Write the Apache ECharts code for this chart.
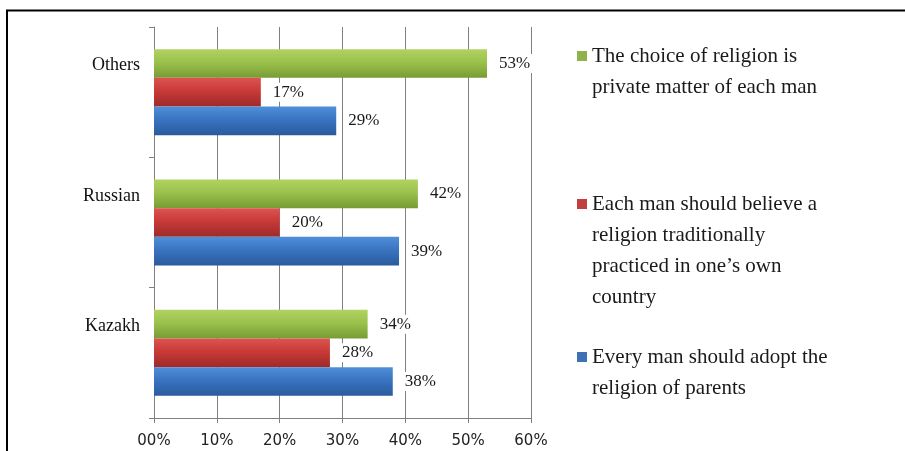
<!DOCTYPE html>
<html>
<head>
<meta charset="utf-8">
<script src="https://cdn.jsdelivr.net/npm/echarts@6/dist/echarts.min.js"></script>
<style>
html,body{margin:0;padding:0;background:#fff;}
#chart{width:905px;height:451px;}
</style>
</head>
<body>
<div id="chart"></div>
<script>
// ---- data ----
var categories = ['Kazakh', 'Russian', 'Others'];
var privateMatter = [34, 42, 53];
var traditional = [28, 20, 17];
var parents = [38, 39, 29];
var seriesNames = [
  'The choice of religion is private matter of each man',
  'Each man should believe a religion traditionally practiced in one\u2019s own country',
  'Every man should adopt the religion of parents'
];
var legendLines = [
  ['The choice of religion is', 'private matter of each man'],
  ['Each man should believe a', 'religion traditionally', 'practiced in one\u2019s own', 'country'],
  ['Every man should adopt the', 'religion of parents']
];
var xTickLabels = ['00%', '10%', '20%', '30%', '40%', '50%', '60%'];

// ---- chart ----
var chart = echarts.init(document.getElementById('chart'), null, {renderer: 'canvas'});
function grad(c0, c1, c2) {
  return new echarts.graphic.LinearGradient(0, 0, 0, 1, [
    {offset: 0, color: c0}, {offset: 0.45, color: c1}, {offset: 1, color: c2}
  ]);
}
var barColors = [
  grad('#b0d262', '#9bc24c', '#789b34'),
  grad('#dc5450', '#c83a38', '#9e2a28'),
  grad('#4f8fd8', '#3a74c2', '#2a5a9c')
];
var legendSymbolColors = ['#8fb24e', '#c0403d', '#3f72b4'];
var legendCenters = [56, 204, 357];
var LH = 31;

var labelStyle = {
  show: true,
  position: 'right',
  distance: 9,
  formatter: '{c}%',
  fontFamily: 'Liberation Serif',
  fontSize: 17,
  color: '#1a1a1a',
  backgroundColor: '#fff',
  padding: [1, 3]
};

var dataSets = [privateMatter, traditional, parents];
var series = dataSets.map(function (d, i) {
  return {
    name: seriesNames[i],
    type: 'bar',
    data: d,
    barGap: '0%',
    barCategoryGap: '34%',
    itemStyle: {color: barColors[i]},
    label: labelStyle
  };
});

var legends = legendLines.map(function (lines, i) {
  var n = lines.length;
  var lead = [];
  for (var k = 0; k < n - 1; k++) lead.push('');
  var text = lead.concat(lines).join('\n');
  var boxH = (2 * n - 1) * LH;
  return {
    orient: 'vertical',
    left: 577,
    top: legendCenters[i] - boxH / 2,
    padding: 0,
    itemWidth: 10,
    itemHeight: 10,
    icon: 'rect',
    selectedMode: false,
    data: [{name: seriesNames[i], itemStyle: {color: legendSymbolColors[i]}}],
    formatter: function () { return text; },
    textStyle: {
      fontFamily: 'Liberation Serif',
      fontSize: 21,
      color: '#1a1a1a',
      lineHeight: LH
    }
  };
});

var option = {
  backgroundColor: '#fff',
  animation: false,
  grid: {left: 154, right: 374, top: 27, bottom: 33, containLabel: false},
  xAxis: {
    type: 'value',
    min: 0,
    max: 60,
    interval: 10,
    axisLine: {show: true, lineStyle: {color: '#808080', width: 1}},
    axisTick: {show: true, length: 5, lineStyle: {color: '#808080'}},
    splitLine: {show: true, lineStyle: {color: '#808080', width: 1}},
    axisLabel: {
      margin: 16,
      fontFamily: 'DejaVu Sans',
      fontSize: 15,
      color: '#222',
      formatter: function (v) { return xTickLabels[Math.round(v / 10)]; }
    }
  },
  yAxis: {
    type: 'category',
    data: categories,
    axisLine: {show: true, lineStyle: {color: '#808080', width: 1}},
    axisTick: {show: true, length: 5, lineStyle: {color: '#808080'}},
    splitLine: {show: false},
    axisLabel: {
      margin: 14,
      fontFamily: 'Liberation Serif',
      fontSize: 18,
      color: '#111',
      lineHeight: 53,
      verticalAlign: 'bottom'
    }
  },
  legend: legends,
  series: series,
  graphic: [
    {type: 'line', shape: {x1: 6, y1: 10.5, x2: 905, y2: 10.5}, style: {stroke: '#000', lineWidth: 2}, silent: true},
    {type: 'line', shape: {x1: 7, y1: 10, x2: 7, y2: 451}, style: {stroke: '#000', lineWidth: 2}, silent: true}
  ]
};
chart.setOption(option);
</script>
</body>
</html>
